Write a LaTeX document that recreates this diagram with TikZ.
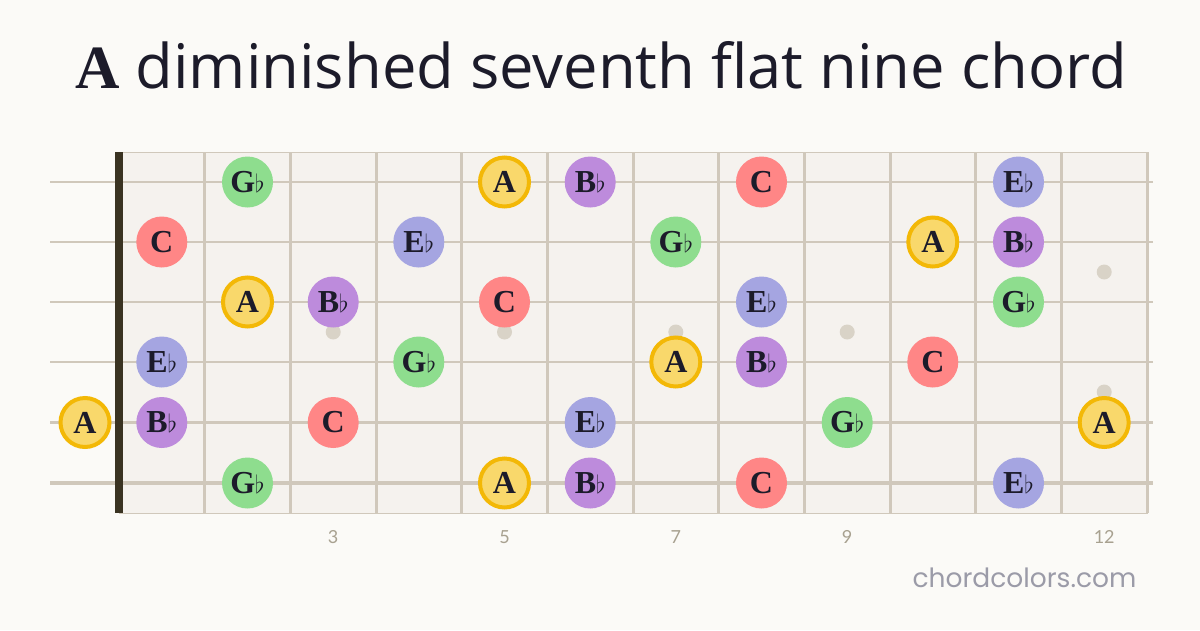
\documentclass[tikz,border=0pt]{standalone}
\usepackage{fontspec}
\setmainfont{Open Sans}
\newfontfamily\notefont{Liberation Serif}
\newfontfamily\sitefont{Poppins}
\newfontfamily\numfont{Lato}
\usetikzlibrary{positioning}
\definecolor{paper}{HTML}{FBFAF7}
\definecolor{board}{HTML}{F5F2EE}
\definecolor{wire}{HTML}{D0C8BB}
\definecolor{nutcolor}{HTML}{3A3322}
\definecolor{ink}{HTML}{1C1B2A}
\definecolor{dotcolor}{HTML}{D9D3C7}
\definecolor{numcolor}{HTML}{A8A190}
\definecolor{sitecolor}{HTML}{9B9BA8}
\definecolor{rootfill}{HTML}{F9D86B}
\definecolor{rootline}{HTML}{F3B806}
\definecolor{cfill}{HTML}{FF8686}
\definecolor{gfill}{HTML}{8EDD8E}
\definecolor{bfill}{HTML}{BD8BDC}
\definecolor{efill}{HTML}{A5A5E1}
\newcommand{\flt}{{\fontsize{30}{30}\selectfont$\flat$}}
\tikzset{
	notecircle/.style={
		circle, minimum size=51pt, inner sep=0pt,
		text=ink, font=\notefont\bfseries\fontsize{32}{32}\selectfont
	},
	%
	rootnote/.style={
		notecircle, minimum size=49pt, fill=rootfill, draw=rootline, line width=4pt
	},
	%
	cnote/.style={notecircle, fill=cfill},
	gnote/.style={notecircle, fill=gfill},
	bnote/.style={notecircle, fill=bfill},
	enote/.style={notecircle, fill=efill},
	%
	inlay/.style={
		circle, minimum size=15pt, inner sep=0pt, fill=dotcolor
	},
	%
	fretlabel/.style={
		anchor=base, text=numcolor, font=\numfont\fontsize{18}{18}\selectfont
	}
}

\begin{document}
\begin{tikzpicture}[x=1pt, y=-1pt]
    \fill[paper] (0,0) rectangle (1200,630);
    \useasboundingbox (0,0) rectangle (1200,630);
    \node(title)[anchor=base, text=ink, font=\fontsize{61.5}{61.5}\selectfont] at (601,88) {{\notefont\bfseries A} diminished seventh flat nine chord};
    % board, frets and strings
    \filldraw[fill=board, draw=wire, line width=1pt] (119,152) rectangle (1147,513);
    \foreach \n in {1,...,12}
        \draw[wire, line width=3pt] ({119+\n*85.67},152) -- ({119+\n*85.67},513);
    \draw[wire, line width=1.3pt] (50,182) -- (1153,182);
    \draw[wire, line width=1.7pt] (50,242) -- (1153,242);
    \draw[wire, line width=2.1pt] (50,302) -- (1153,302);
    \draw[wire, line width=2.7pt] (50,362) -- (1153,362);
    \draw[wire, line width=3.3pt] (50,422.5) -- (1153,422.5);
    \draw[wire, line width=4pt] (50,483) -- (1153,483);
    \fill[nutcolor] (115,152) rectangle (123,513);
    % inlays
    \node(dot3)[inlay] at (333.2,332) {};
    \node(dot5)[inlay] at (504.5,332) {};
    \node(dot7)[inlay] at (675.8,332) {};
    \node(dot9)[inlay] at (847.2,332) {};
    \node(dot12a)[inlay] at (1104.2,272) {};
    \node(dot12b)[inlay] at (1104.2,392) {};
    % string 1
    \node(s1f2)[gnote] at (247.5,182) {G\flt};
    \node(s1f5)[rootnote] at (504.5,182) {A};
    \node(s1f6)[bnote] at (590.2,182) {B\flt};
    \node(s1f8)[cnote] at (761.5,182) {C};
    \node(s1f11)[enote] at (1018.5,182) {E\flt};
    % string 2
    \node(s2f1)[cnote] at (161.8,242) {C};
    \node(s2f4)[enote] at (418.8,242) {E\flt};
    \node(s2f7)[gnote] at (675.8,242) {G\flt};
    \node(s2f10)[rootnote] at (932.8,242) {A};
    \node(s2f11)[bnote] at (1018.5,242) {B\flt};
    % string 3
    \node(s3f2)[rootnote] at (247.5,302) {A};
    \node(s3f3)[bnote] at (333.2,302) {B\flt};
    \node(s3f5)[cnote] at (504.5,302) {C};
    \node(s3f8)[enote] at (761.5,302) {E\flt};
    \node(s3f11)[gnote] at (1018.5,302) {G\flt};
    % string 4
    \node(s4f1)[enote] at (161.8,362) {E\flt};
    \node(s4f4)[gnote] at (418.8,362) {G\flt};
    \node(s4f7)[rootnote] at (675.8,362) {A};
    \node(s4f8)[bnote] at (761.5,362) {B\flt};
    \node(s4f10)[cnote] at (932.8,362) {C};
    % string 5
    \node(s5f0)[rootnote] at (85,422.5) {A};
    \node(s5f1)[bnote] at (161.8,422.5) {B\flt};
    \node(s5f3)[cnote] at (333.2,422.5) {C};
    \node(s5f6)[enote] at (590.2,422.5) {E\flt};
    \node(s5f9)[gnote] at (847.2,422.5) {G\flt};
    \node(s5f12)[rootnote] at (1104.2,422.5) {A};
    % string 6
    \node(s6f2)[gnote] at (247.5,483) {G\flt};
    \node(s6f5)[rootnote] at (504.5,483) {A};
    \node(s6f6)[bnote] at (590.2,483) {B\flt};
    \node(s6f8)[cnote] at (761.5,483) {C};
    \node(s6f11)[enote] at (1018.5,483) {E\flt};
    % fret numbers
    \node(n3)[fretlabel] at (333.2,543) {3};
    \node(n5)[fretlabel] at (504.5,543) {5};
    \node(n7)[fretlabel] at (675.8,543) {7};
    \node(n9)[fretlabel] at (847.2,543) {9};
    \node(n12)[fretlabel] at (1104.2,543) {12};
    \node(site)[anchor=base east, text=sitecolor, font=\sitefont\fontsize{26.5}{26.5}\selectfont] at (1140,587) {chordcolors.com};
\end{tikzpicture}
\end{document}
